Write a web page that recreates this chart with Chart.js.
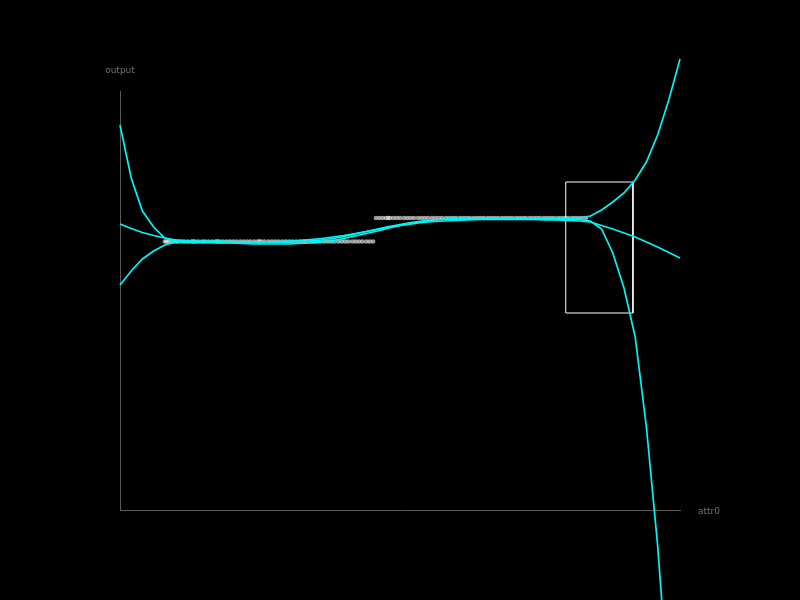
<!DOCTYPE html>
<html>
<head>
<meta charset="utf-8">
<script src="https://cdn.jsdelivr.net/npm/chart.js@4.4.1/dist/chart.umd.min.js"></script>
<style>
html,body{margin:0;padding:0;background:#000;}
canvas{display:block;}
</style>
</head>
<body>
<canvas id="c" width="800" height="600"></canvas>
<script>
// attr0 grid on which the model curves were evaluated
const attr0 = [0,0.02,0.04,0.06,0.08,0.10,0.12,0.14,0.16,0.18,0.20,0.22,0.24,0.26,0.28,0.30,0.32,0.34,0.36,0.38,0.40,0.42,0.44,0.46,0.48,0.50,0.52,0.54,0.56,0.58,0.60,0.62,0.64,0.66,0.68,0.70,0.72,0.74,0.76,0.78,0.80,0.82,0.84,0.86,0.88,0.90,0.92,0.94,0.96,0.98,1.00];

// model predictions (output)
const modelA = [1.66,1.13,0.80,0.64,0.53,0.495,0.485,0.485,0.485,0.48,0.48,0.475,0.47,0.47,0.47,0.47,0.475,0.48,0.49,0.505,0.525,0.55,0.575,0.60,0.63,0.655,0.675,0.695,0.71,0.72,0.725,0.73,0.73,0.73,0.73,0.725,0.725,0.72,0.72,0.715,0.715,0.715,0.70,0.62,0.38,0.03,-0.46,-1.36,-2.54,-4.04,-6.09];
const modelB = [0.06,0.20,0.32,0.40,0.46,0.49,0.50,0.50,0.50,0.50,0.495,0.495,0.49,0.49,0.49,0.49,0.495,0.50,0.51,0.525,0.545,0.57,0.595,0.62,0.645,0.665,0.685,0.70,0.71,0.715,0.72,0.72,0.72,0.72,0.72,0.72,0.72,0.72,0.72,0.725,0.725,0.73,0.75,0.81,0.89,0.98,1.11,1.29,1.56,1.91,2.32];
const modelC = [0.67,0.625,0.585,0.555,0.53,0.51,0.50,0.495,0.49,0.49,0.49,0.49,0.49,0.49,0.495,0.50,0.505,0.515,0.525,0.54,0.555,0.575,0.595,0.615,0.635,0.655,0.67,0.685,0.695,0.70,0.705,0.71,0.715,0.715,0.715,0.715,0.715,0.715,0.71,0.71,0.705,0.70,0.69,0.655,0.62,0.58,0.54,0.49,0.44,0.385,0.33];

// observed samples
const lowX = [0.080,0.083,0.086,0.091,0.097,0.101,0.104,0.110,0.115,0.121,0.128,0.131,0.134,0.140,0.147,0.152,0.158,0.165,0.171,0.174,0.177,0.183,0.190,0.196,0.202,0.208,0.215,0.221,0.227,0.233,0.240,0.246,0.249,0.252,0.258,0.265,0.271,0.277,0.283,0.290,0.296,0.302,0.308,0.315,0.321,0.327,0.333,0.340,0.346,0.352,0.358,0.365,0.371,0.377,0.383,0.390,0.396,0.402,0.408,0.415,0.421,0.427,0.433,0.440,0.446,0.452];
const lowY = 0.495;
const highX = [0.457,0.463,0.469,0.475,0.479,0.482,0.488,0.494,0.500,0.507,0.513,0.519,0.525,0.532,0.538,0.544,0.550,0.557,0.563,0.569,0.575,0.582,0.588,0.594,0.600,0.607,0.613,0.619,0.625,0.632,0.638,0.644,0.650,0.657,0.663,0.669,0.675,0.682,0.688,0.694,0.700,0.707,0.713,0.719,0.725,0.732,0.738,0.744,0.750,0.757,0.763,0.769,0.775,0.782,0.788,0.794,0.800,0.807,0.813,0.819,0.825,0.832];
const highY = 0.73;

// highlighted region
const regionX = [0.796, 0.916];
const regionY = [-0.22, 1.09];

const xMin = 0, xMax = 1, yMin = -2.19, yMax = 2.0;

function pts(xs, ys){ return xs.map((x,i)=>({x:x, y: Array.isArray(ys)? ys[i] : ys})); }

const curveStyle = {type:'line', borderColor:'#00f5f5', borderWidth:1.7, pointRadius:0, tension:0, fill:false, clip:false, order:0};

const titles = {
  id:'axisTitles',
  afterDraw(chart){
    const a = chart.chartArea, ctx = chart.ctx;
    ctx.save();
    ctx.fillStyle = '#707070';
    ctx.font = '9px "DejaVu Sans"';
    ctx.textBaseline = 'middle';
    ctx.textAlign = 'center';
    ctx.fillText('output', a.left, a.top - 20);
    ctx.textAlign = 'left';
    ctx.fillText('attr0', a.right + 18, a.bottom + 2);
    ctx.restore();
  }
};

new Chart(document.getElementById('c'), {
  data: {
    datasets: [
      Object.assign({data: pts(attr0, modelA)}, curveStyle),
      Object.assign({data: pts(attr0, modelB)}, curveStyle),
      Object.assign({data: pts(attr0, modelC)}, curveStyle),
      {type:'line', data:[{x:regionX[0],y:regionY[0]},{x:regionX[0],y:regionY[1]},{x:regionX[1],y:regionY[1]},{x:regionX[1],y:regionY[0]},{x:regionX[0],y:regionY[0]}],
       borderColor:'#ffffff', borderWidth:1, pointRadius:0, tension:0, fill:false, clip:false, order:1},
      {type:'scatter', data: pts(lowX, lowY), backgroundColor:'rgba(235,235,235,0.65)', borderWidth:0, pointRadius:2.3, order:2},
      {type:'scatter', data: pts(highX, highY), backgroundColor:'rgba(235,235,235,0.65)', borderWidth:0, pointRadius:2.3, order:2}
    ]
  },
  options: {
    responsive:false,
    animation:false,
    devicePixelRatio:1,
    layout:{padding:{left:120, right:120, top:91, bottom:90}},
    plugins:{legend:{display:false}, tooltip:{enabled:false}},
    scales:{
      x:{type:'linear', min:xMin, max:xMax, ticks:{display:false}, grid:{display:false, drawTicks:false},
         border:{display:true, color:'#5a5a5a', width:1}, afterFit(s){ s.height = 0; }},
      y:{type:'linear', min:yMin, max:yMax, ticks:{display:false}, grid:{display:false, drawTicks:false},
         border:{display:true, color:'#5a5a5a', width:1}, afterFit(s){ s.width = 0; }}
    }
  },
  plugins:[titles, {id:'bg', beforeDraw(c){const x=c.ctx; x.save(); x.fillStyle='#000'; x.fillRect(0,0,c.width,c.height); x.restore();}}]
});
</script>
</body>
</html>
